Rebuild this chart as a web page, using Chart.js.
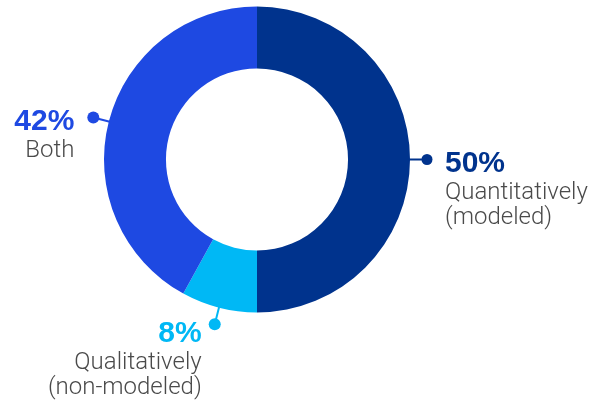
<!DOCTYPE html>
<html>
<head>
<meta charset="utf-8">
<script src="https://cdn.jsdelivr.net/npm/chart.js@4"></script>
<style>
  html, body { margin: 0; padding: 0; background: #fff; }
  #wrap { width: 606px; height: 402px; position: relative; }
</style>
</head>
<body>
<div id="wrap"><canvas id="donut" width="606" height="402"></canvas></div>
<script>
var categories = ['Quantitatively (modeled)', 'Qualitatively (non-modeled)', 'Both'];
var shares = [50, 8, 42];
var colors = ['#00338D', '#00B8F5', '#1E49E2'];
var captions = [['Quantitatively', '(modeled)'], ['Qualitatively', '(non-modeled)'], ['Both']];

// where each callout text sits relative to its leader dot
var callouts = [
	{ align: 'left',  dx: 18,  dy: 12, len: 17, dot: 5.5 },
	{ align: 'right', dx: -13, dy: 18, len: 17, dot: 6 },
	{ align: 'right', dx: -19, dy: 13, len: 16, dot: 6 }
];

var calloutPlugin = {
	id: 'callouts',
	afterDatasetsDraw: function (chart) {
		var ctx = chart.ctx;
		var arcs = chart.getDatasetMeta(0).data;
		arcs.forEach(function (arc, i) {
			var p = arc.getProps(['x', 'y', 'startAngle', 'endAngle', 'outerRadius'], true);
			var mid = (p.startAngle + p.endAngle) / 2;
			var c = callouts[i];
			var ex = p.x + Math.cos(mid) * (p.outerRadius - 1);
			var ey = p.y + Math.sin(mid) * (p.outerRadius - 1);
			var dx = p.x + Math.cos(mid) * (p.outerRadius + c.len);
			var dy = p.y + Math.sin(mid) * (p.outerRadius + c.len);

			ctx.save();
			ctx.strokeStyle = colors[i];
			ctx.fillStyle = colors[i];
			ctx.lineWidth = 2;
			ctx.beginPath();
			ctx.moveTo(ex, ey);
			ctx.lineTo(dx, dy);
			ctx.stroke();
			ctx.beginPath();
			ctx.arc(dx, dy, c.dot, 0, Math.PI * 2);
			ctx.fill();

			var tx = dx + c.dx;
			var ty = dy + c.dy;
			ctx.textAlign = c.align;
			ctx.textBaseline = 'alphabetic';
			ctx.font = 'bold 30px "Liberation Sans", Arial, sans-serif';
			ctx.fillText(shares[i] + '%', tx, ty);

			ctx.fillStyle = '#4a4a4a';
			ctx.font = '300 24px Roboto, "Liberation Sans", sans-serif';
			captions[i].forEach(function (line, k) {
				ctx.fillText(line, tx, ty + 27 + k * 25);
			});
			ctx.restore();
		});
	}
};

var chart = new Chart(document.getElementById('donut').getContext('2d'), {
	type: 'doughnut',
	data: {
		labels: categories,
		datasets: [{
			data: shares,
			backgroundColor: colors,
			borderWidth: 0,
			hoverOffset: 0
		}]
	},
	options: {
		responsive: false,
		animation: false,
		cutout: '59.5%',
		layout: {
			padding: { left: 104, top: 6, right: 196, bottom: 89 }
		},
		plugins: {
			legend: { display: false },
			tooltip: { enabled: false }
		}
	},
	plugins: [calloutPlugin]
});
</script>
</body>
</html>
